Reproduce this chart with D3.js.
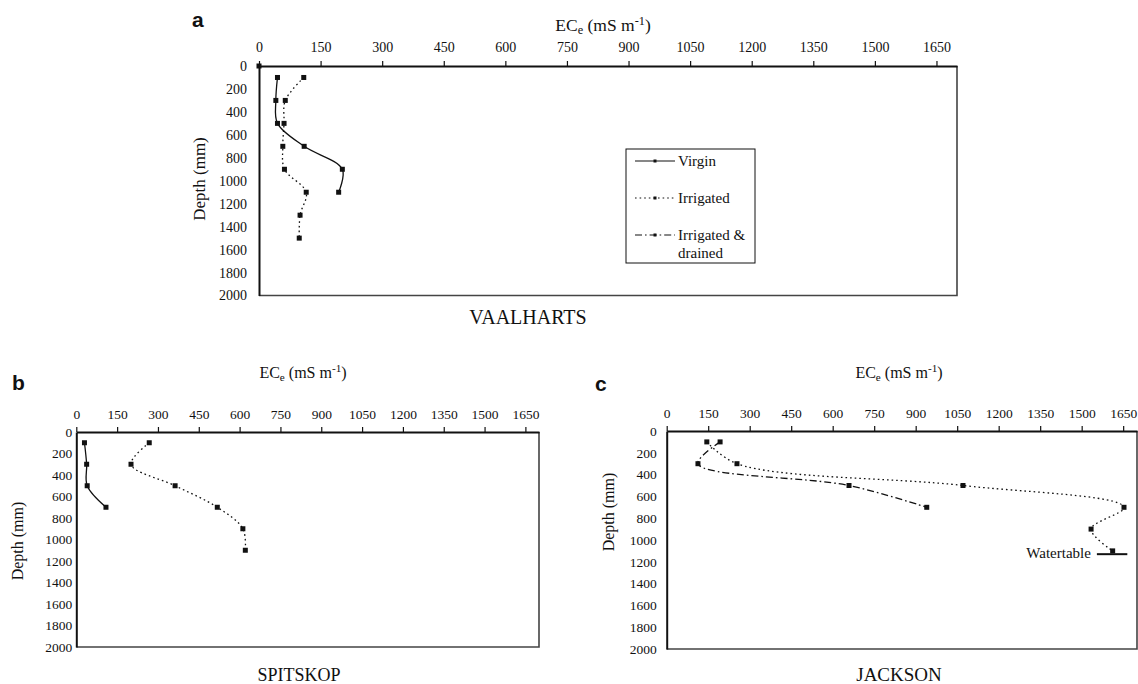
<!DOCTYPE html>
<html>
<head>
<meta charset="utf-8">
<script src="https://cdn.jsdelivr.net/npm/d3@7"></script>
<style>
  html, body { margin: 0; padding: 0; background: #fff; }
  svg { display: block; }
</style>
</head>
<body>
<div id="chart"></div>
<script>
const width = 1138;
const height = 684;
const serif = "'Liberation Serif', 'Times New Roman', Times, 'DejaVu Serif', serif";
const sans = "'Liberation Sans', Arial, Helvetica, sans-serif";

// axis ticks
const ecTicks = [0, 150, 300, 450, 600, 750, 900, 1050, 1200, 1350, 1500, 1650];
const depthTicks = [0, 200, 400, 600, 800, 1000, 1200, 1400, 1600, 1800, 2000];

// Vaalharts
const vaalVirginDepth = [100, 300, 500, 700, 900, 1100];
const vaalVirgin = [45, 41, 45, 110, 203, 194];
const vaalIrrDepth = [100, 300, 500, 700, 900, 1100, 1300, 1500];
const vaalIrrigated = [109, 64, 61, 58, 62, 115, 100, 98];
const vaalDrainedDepth = [0];
const vaalDrained = [0];

// Spitskop
const spitVirginDepth = [100, 300, 500, 700];
const spitVirgin = [30, 38, 40, 109];
const spitIrrDepth = [100, 300, 500, 700, 900, 1100];
const spitIrrigated = [268, 201, 363, 518, 612, 621];

// Jackson
const jackIrrDepth = [100, 300, 500, 700, 900, 1100];
const jackIrrigated = [145, 254, 1071, 1653, 1534, 1612];
const jackDrainedDepth = [100, 300, 500, 700];
const jackDrained = [193, 113, 659, 940];
const watertableDepth = 1130;
const watertableEC = [1555, 1665];

const legendNames = ['Virgin', 'Irrigated', 'Irrigated & drained'];

const dash = {
  virgin: null,
  irrigated: '1.6,3',
  drained: '7,3,1.6,3'
};

const svg = d3.select('#chart')
  .append('svg')
  .attr('width', width)
  .attr('height', height);

function zip(xs, ds) {
  return xs.map((v, i) => ({ ec: v, depth: ds[i] }));
}

function drawPanel(p) {
  const x = d3.scaleLinear().domain([0, 1700]).range([p.left, p.right]);
  const y = d3.scaleLinear().domain([0, 2000]).range([p.top, p.bottom]);
  const g = svg.append('g');

  // frame (right + bottom)
  g.append('path')
    .attr('d', `M${p.right},${p.top}V${p.bottom}H${p.left}`)
    .attr('fill', 'none')
    .attr('stroke', '#444')
    .attr('stroke-width', 1.6);

  const xAxis = g.append('g')
    .attr('transform', `translate(0,${p.top})`)
    .call(d3.axisTop(x).tickValues(ecTicks).tickFormat(d3.format('d'))
      .tickSize(5).tickPadding(p.xPad).tickSizeOuter(0));
  xAxis.attr('font-family', serif).attr('font-size', p.tickFont);
  xAxis.select('.domain').attr('stroke', '#111').attr('stroke-width', 2);
  xAxis.selectAll('.tick line').attr('stroke', '#111').attr('stroke-width', 1.2);
  xAxis.selectAll('.tick text').attr('fill', '#111');

  const yAxis = g.append('g')
    .attr('transform', `translate(${p.left},0)`)
    .call(d3.axisLeft(y).tickValues(depthTicks).tickFormat(d3.format('d'))
      .tickSize(0).tickPadding(p.yPad));
  yAxis.attr('font-family', serif).attr('font-size', p.tickFont);
  yAxis.select('.domain').attr('stroke', '#111').attr('stroke-width', 2);
  yAxis.selectAll('.tick text').attr('fill', '#111');

  // EC title
  const t = g.append('text')
    .attr('x', p.ecX)
    .attr('y', p.ecY)
    .attr('text-anchor', 'middle')
    .attr('font-family', serif)
    .attr('font-size', p.ecFont)
    .attr('fill', '#111');
  t.append('tspan').text('EC');
  t.append('tspan').attr('font-size', p.ecFont * 0.7).attr('dy', 3).text('e');
  t.append('tspan').attr('dy', -3).text(' (mS m');
  t.append('tspan').attr('font-size', p.ecFont * 0.7).attr('dy', -6).text('-1');
  t.append('tspan').attr('dy', 6).text(')');

  // depth title
  g.append('text')
    .attr('transform', `translate(${p.depthX},${p.depthY}) rotate(-90)`)
    .attr('text-anchor', 'middle')
    .attr('font-family', serif)
    .attr('font-size', p.depthFont)
    .attr('fill', '#111')
    .text('Depth (mm)');

  // site name
  g.append('text')
    .attr('x', p.siteX)
    .attr('y', p.siteY)
    .attr('text-anchor', 'middle')
    .attr('font-family', serif)
    .attr('font-size', p.siteFont)
    .attr('fill', '#111')
    .text(p.site);

  // panel letter
  g.append('text')
    .attr('x', p.letterX)
    .attr('y', p.letterY)
    .attr('font-family', sans)
    .attr('font-weight', 'bold')
    .attr('font-size', 21)
    .attr('fill', '#111')
    .text(p.letter);

  const line = d3.line()
    .x(d => x(d.ec))
    .y(d => y(d.depth))
    .curve(d3.curveCatmullRom.alpha(0.5));

  p.series.forEach(s => {
    if (s.data.length > 1) {
      g.append('path')
        .datum(s.data)
        .attr('d', line)
        .attr('fill', 'none')
        .attr('stroke', '#111')
        .attr('stroke-width', 1.3)
        .attr('stroke-dasharray', s.dash);
    }
    g.selectAll(null)
      .data(s.data)
      .enter()
      .append('rect')
      .attr('x', d => x(d.ec) - 2.5)
      .attr('y', d => y(d.depth) - 2.5)
      .attr('width', 5)
      .attr('height', 5)
      .attr('fill', '#111');
  });

  if (p.extra) p.extra(g, x, y);
}

drawPanel({
  letter: 'a', letterX: 192, letterY: 27,
  site: 'VAALHARTS', siteX: 528, siteY: 324, siteFont: 20,
  left: 259, right: 957, top: 66, bottom: 295.5,
  tickFont: 14, xPad: 9, yPad: 12,
  ecX: 603, ecY: 31, ecFont: 17.5,
  depthX: 205, depthY: 179, depthFont: 17,
  series: [
    { data: zip(vaalVirgin, vaalVirginDepth), dash: dash.virgin },
    { data: zip(vaalIrrigated, vaalIrrDepth), dash: dash.irrigated },
    { data: zip(vaalDrained, vaalDrainedDepth), dash: dash.drained }
  ],
  extra: (g) => {
    const lg = g.append('g');
    lg.append('rect')
      .attr('x', 626).attr('y', 149).attr('width', 129).attr('height', 114)
      .attr('fill', '#fff').attr('stroke', '#111').attr('stroke-width', 1);
    const rows = [
      { y: 161, dash: dash.virgin, lines: [legendNames[0]] },
      { y: 198, dash: dash.irrigated, lines: [legendNames[1]] },
      { y: 235, dash: dash.drained, lines: ['Irrigated &', 'drained'] }
    ];
    rows.forEach(r => {
      lg.append('line')
        .attr('x1', 635).attr('x2', 675).attr('y1', r.y).attr('y2', r.y)
        .attr('stroke', '#111').attr('stroke-width', 1.2)
        .attr('stroke-dasharray', r.dash);
      lg.append('rect')
        .attr('x', 653.5).attr('y', r.y - 1.5).attr('width', 3).attr('height', 3)
        .attr('fill', '#111');
      r.lines.forEach((txt, i) => {
        lg.append('text')
          .attr('x', 678).attr('y', r.y + 5 + i * 18)
          .attr('font-family', serif)
          .attr('font-size', 15)
          .attr('fill', '#111')
          .text(txt);
      });
    });
  }
});

drawPanel({
  letter: 'b', letterX: 12, letterY: 390,
  site: 'SPITSKOP', siteX: 299, siteY: 681, siteFont: 18,
  left: 76.3, right: 539, top: 432, bottom: 647,
  tickFont: 13.5, xPad: 8, yPad: 4,
  ecX: 303, ecY: 378, ecFont: 16,
  depthX: 23, depthY: 541, depthFont: 16,
  series: [
    { data: zip(spitVirgin, spitVirginDepth), dash: dash.virgin },
    { data: zip(spitIrrigated, spitIrrDepth), dash: dash.irrigated }
  ]
});

drawPanel({
  letter: 'c', letterX: 595, letterY: 391,
  site: 'JACKSON', siteX: 899, siteY: 681, siteFont: 19,
  left: 666.7, right: 1137, top: 431, bottom: 649,
  tickFont: 13.5, xPad: 8, yPad: 10,
  ecX: 899, ecY: 378, ecFont: 16,
  depthX: 614, depthY: 512, depthFont: 16,
  series: [
    { data: zip(jackIrrigated, jackIrrDepth), dash: dash.irrigated },
    { data: zip(jackDrained, jackDrainedDepth), dash: dash.drained }
  ],
  extra: (g, x, y) => {
    g.append('line')
      .attr('x1', x(watertableEC[0])).attr('x2', x(watertableEC[1]))
      .attr('y1', y(watertableDepth)).attr('y2', y(watertableDepth))
      .attr('stroke', '#111').attr('stroke-width', 2);
    g.append('text')
      .attr('x', x(watertableEC[0]) - 6)
      .attr('y', y(watertableDepth) + 4)
      .attr('text-anchor', 'end')
      .attr('font-family', serif)
      .attr('font-size', 15)
      .attr('fill', '#111')
      .text('Watertable');
  }
});
</script>
</body>
</html>
